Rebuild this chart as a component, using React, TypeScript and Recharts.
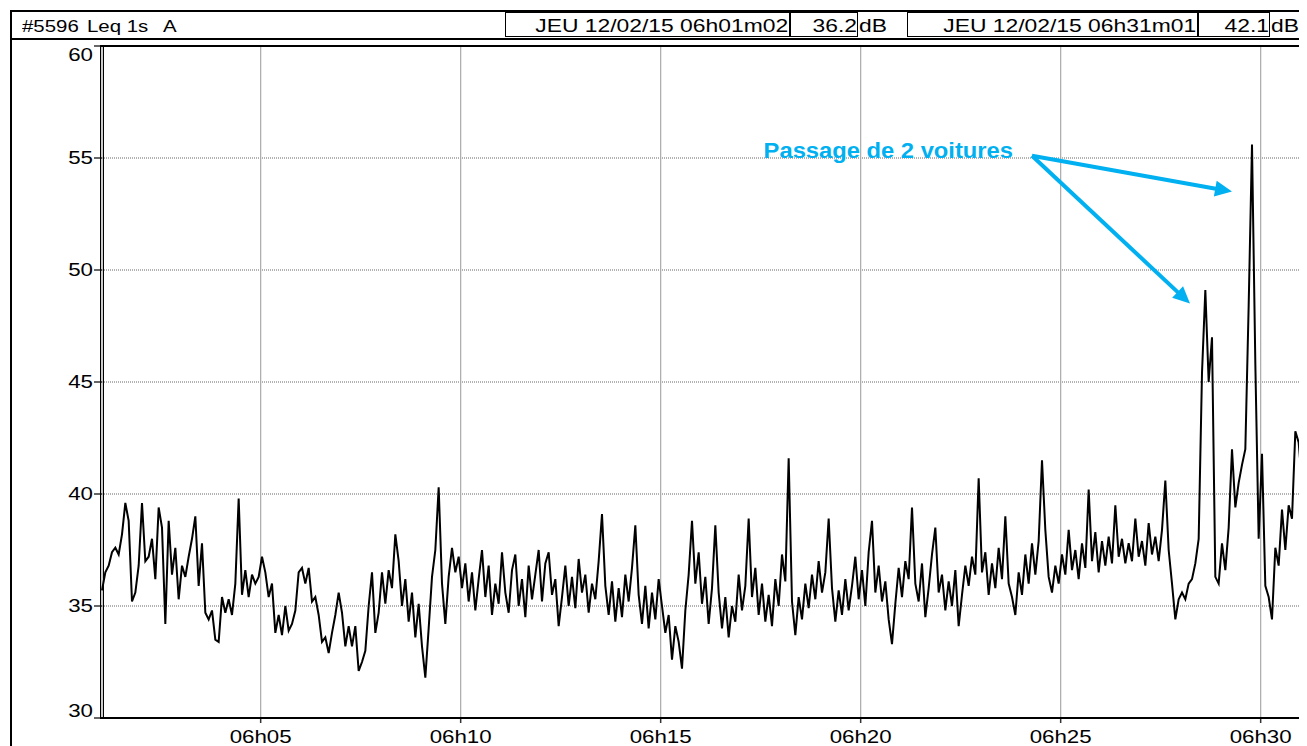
import React from 'react';
import { LineChart, Line, XAxis, YAxis, CartesianGrid, ReferenceLine, ReferenceDot } from 'recharts';

// Time axis: seconds since 06h00m00. First sample 06h01m02, one value every 5 s.
const START_SEC = 62;
const STEP_SEC = 5;
const END_SEC = 1862;

// Leq 1s (dB(A)), one reading per 5 s
const levels: number[] = [
  35.7, 36.5, 36.8, 37.4, 37.6, 37.3, 38.2, 39.6, 38.8, 35.2,
  35.6, 36.8, 39.6, 37.0, 37.2, 38.0, 36.2, 39.4, 38.5, 34.2,
  38.8, 36.4, 37.6, 35.3, 36.8, 36.3, 37.2, 38.0, 39.0, 35.9,
  37.8, 34.7, 34.4, 34.8, 33.5, 33.4, 35.4, 34.7, 35.3, 34.6,
  36.0, 39.8, 35.5, 36.6, 35.4, 36.4, 36.0, 36.3, 37.2, 36.5,
  35.4, 36.0, 33.8, 34.6, 33.7, 35.0, 33.9, 34.2, 34.8, 36.5,
  36.7, 36.0, 36.7, 35.2, 35.4, 34.6, 33.4, 33.6, 32.9, 33.8,
  34.6, 35.6, 34.7, 33.2, 34.1, 33.2, 34.1, 32.1, 32.5, 33.0,
  35.0, 36.5, 33.8, 34.7, 36.5, 35.1, 36.6, 35.8, 38.2, 37.0,
  35.0, 36.2, 34.3, 35.6, 33.6, 35.1, 33.2, 31.8, 34.0, 36.3,
  37.5, 40.3, 36.0, 34.2, 36.3, 37.6, 36.5, 37.2, 35.8, 36.9,
  35.2, 36.5, 34.8, 36.2, 37.5, 35.4, 36.8, 34.6, 36.0, 35.1,
  37.4, 35.6, 34.7, 36.6, 37.3, 35.0, 36.2, 34.5, 36.8, 35.3,
  36.4, 37.5, 35.2, 36.9, 37.4, 35.5, 36.2, 34.1, 35.4, 36.8,
  35.0, 36.3, 34.9, 37.1, 35.6, 36.4, 34.7, 36.0, 35.3, 37.0,
  39.1, 35.9, 34.6, 36.1, 34.3, 35.8, 34.5, 36.4, 35.2, 36.7,
  38.6, 35.5, 34.2, 35.9, 34.0, 35.6, 34.4, 36.2, 35.0, 33.8,
  34.6, 32.6, 34.1, 33.4, 32.2, 34.8, 36.4, 38.8, 36.0, 37.4,
  35.1, 36.3, 34.2, 35.8, 38.6, 35.6, 34.0, 35.4, 33.6, 35.0,
  34.3, 36.4, 34.8, 35.9, 38.9, 35.4, 36.7, 34.6, 36.0, 34.3,
  35.5, 34.1, 36.2, 35.0, 37.3, 36.1, 41.6, 35.2, 33.7, 35.4,
  34.4, 36.0, 34.9, 36.4, 35.3, 37.0, 35.6, 36.5, 38.9, 35.8,
  34.3, 35.7, 34.6, 36.2, 34.8, 35.9, 37.2, 35.3, 36.6, 35.0,
  37.4, 38.8, 35.6, 36.8, 35.2, 36.1, 34.4, 33.3, 35.1, 36.7,
  35.4, 37.0, 36.2, 39.4, 36.0, 35.2, 36.9, 34.5, 35.8, 37.3,
  38.5, 35.6, 36.4, 34.8, 36.1, 35.0, 36.6, 34.1, 35.5, 36.8,
  35.9, 37.2, 36.4, 40.7, 36.5, 37.4, 35.5, 36.9, 35.8, 37.6,
  36.2, 39.0, 36.0, 35.4, 34.6, 36.5, 35.5, 37.3, 36.0, 37.8,
  36.4, 37.9, 41.5, 38.4, 36.3, 35.6, 36.8, 36.0, 37.3, 36.4,
  38.4, 36.6, 37.5, 36.2, 37.8, 36.7, 40.2, 37.0, 38.3, 36.5,
  37.9, 36.8, 38.1, 36.9, 39.5, 37.2, 38.0, 36.9, 37.8, 37.0,
  38.9, 37.2, 37.9, 36.8, 38.7, 37.3, 38.1, 37.0, 38.4, 40.6,
  37.5, 36.0, 34.4, 35.3, 35.6, 35.3, 36.0, 36.2, 36.9, 38.0,
  45.4, 49.1, 45.0, 47.0, 36.3, 36.0, 37.8, 36.6, 38.5, 42.0,
  39.4, 40.5, 41.3, 42.0, 48.4, 55.6, 45.8, 38.0, 41.8, 35.9,
  35.4, 34.4, 37.6, 36.8, 39.3, 37.5, 39.5, 38.9, 42.8, 42.3,
  40.5,
];

const timeTicks = [300, 600, 900, 1200, 1500, 1800];
const timeTickLabels = ['06h05', '06h10', '06h15', '06h20', '06h25', '06h30'];
const levelTicks = [30, 35, 40, 45, 50, 55, 60];
const levelDomain = [30, 60];

const headerParts = ['#5596', 'Leq 1s', 'A'];
const startStamp = 'JEU 12/02/15 06h01m02';
const startLevel = '36.2';
const endStamp = 'JEU 12/02/15 06h31m01';
const endLevel = '42.1';
const unit = 'dB';

const annotationText = 'Passage de 2 voitures';
const annotationFrom = { x: 1457, y: 55.1 };
const annotationTargets = [
  { x: 1757, y: 53.5 },
  { x: 1694, y: 48.5 },
];

const data = levels.map((v, i) => ({ t: START_SEC + i * STEP_SEC, v }));

const FONT = '"Liberation Sans", Arial, Helvetica, sans-serif';
const STRETCH = 1.24;
const HSTRETCH = 1.27;
const BLUE = '#00B0F0';

const YTick = (props: any) => {
  const { x, y, payload } = props;
  const v = payload.value;
  const dy = v === 60 ? 15 : v === 30 ? -1 : 6.5;
  return (
    <text
      x={x}
      y={y + dy}
      textAnchor="end"
      fontSize={18}
      fontFamily={FONT}
      fill="#000"
      transform={`translate(${x} 0) scale(${STRETCH} 1) translate(${-x} 0)`}
    >
      {v}
    </text>
  );
};

const XTick = (props: any) => {
  const { x, y, payload } = props;
  const idx = timeTicks.indexOf(payload.value);
  return (
    <text
      x={x}
      y={y + 18}
      textAnchor="middle"
      fontSize={18}
      fontFamily={FONT}
      fill="#000"
      transform={`translate(${x} 0) scale(${STRETCH} 1) translate(${-x} 0)`}
    >
      {idx >= 0 ? timeTickLabels[idx] : ''}
    </text>
  );
};

const Arrow = (p: any) => {
  const { x1, y1, x2, y2 } = p;
  if ([x1, y1, x2, y2].some((n) => typeof n !== 'number' || isNaN(n))) return <g />;
  const dx = x2 - x1;
  const dy = y2 - y1;
  const len = Math.hypot(dx, dy) || 1;
  const ux = dx / len;
  const uy = dy / len;
  const head = 17;
  const half = 8;
  const bx = x2 - ux * head;
  const by = y2 - uy * head;
  const px = -uy;
  const py = ux;
  return (
    <g>
      <line x1={x1} y1={y1} x2={bx + ux * 2} y2={by + uy * 2} stroke={BLUE} strokeWidth={4} />
      <polygon
        points={`${x2},${y2} ${bx + px * half},${by + py * half} ${bx - px * half},${by - py * half}`}
        fill={BLUE}
      />
    </g>
  );
};

const AnnotationLabel = (p: any) => {
  const { cx, cy } = p;
  if (typeof cx !== 'number' || typeof cy !== 'number') return <g />;
  const x = cx - 19;
  return (
    <text
      x={x}
      y={cy + 2}
      textAnchor="end"
      fontSize={22}
      fontWeight="bold"
      fontFamily={FONT}
      fill={BLUE}
      transform={`translate(${x} 0) scale(1.08 1) translate(${-x} 0)`}
    >
      {annotationText}
    </text>
  );
};

const Rule = ({ l, t, w, h }: { l: number; t: number; w: number; h: number }) => (
  <div style={{ position: 'absolute', left: l, top: t, width: w, height: h, background: '#000' }} />
);

const Box = ({ l, w }: { l: number; w: number }) => (
  <div
    style={{
      position: 'absolute',
      left: l,
      top: 4,
      width: w,
      height: 25,
      boxSizing: 'border-box',
      border: '1.5px solid #000',
    }}
  />
);

const HText = ({
  text,
  left,
  right,
  size = 18,
  stretch = HSTRETCH,
}: {
  text: string;
  left?: number;
  right?: number;
  size?: number;
  stretch?: number;
}) => (
  <div
    style={{
      position: 'absolute',
      top: 9 + (18 - size) * 0.8,
      left,
      right,
      fontSize: size,
      lineHeight: `${size}px`,
      whiteSpace: 'nowrap',
      fontFamily: FONT,
      color: '#000',
      transform: `scaleX(${stretch})`,
      transformOrigin: right !== undefined ? 'right center' : 'left center',
    }}
  >
    {text}
  </div>
);

const W = 1299;

export default function App() {
  return (
    <div style={{ position: 'relative', width: W, height: 738, fontFamily: FONT, background: '#fff' }}>
      <LineChart width={W} height={738} data={data} margin={{ top: 38, right: 5, bottom: 0, left: 0 }}>
        <CartesianGrid vertical={false} stroke="#666" strokeDasharray="1 1" />
        <CartesianGrid horizontal={false} stroke="#aaa" strokeWidth={1.2} />
        <XAxis
          type="number"
          dataKey="t"
          domain={[START_SEC, END_SEC]}
          ticks={timeTicks}
          height={28}
          axisLine={false}
          tickLine={{ stroke: '#333', strokeWidth: 1.5 }}
          tickSize={5}
          tickMargin={2}
          tick={<XTick />}
          interval={0}
        />
        <YAxis
          type="number"
          domain={levelDomain}
          ticks={levelTicks}
          width={94}
          axisLine={false}
          tickLine={{ stroke: '#000', strokeWidth: 1.2 }}
          tickSize={8}
          tickMargin={1}
          tick={<YTick />}
          interval={0}
        />
        <Line
          type="linear"
          dataKey="v"
          stroke="#000"
          strokeWidth={2}
          dot={false}
          isAnimationActive={false}
        />
        {annotationTargets.map((tg, i) => (
          <ReferenceLine key={i} segment={[annotationFrom, tg]} shape={Arrow} ifOverflow="visible" />
        ))}
        <ReferenceDot x={annotationFrom.x} y={annotationFrom.y} r={0} shape={AnnotationLabel} ifOverflow="visible" />
      </LineChart>

      <div style={{ position: 'absolute', left: 0, top: 0, width: W, height: 738, pointerEvents: 'none' }}>
        {/* outer frame */}
        <Rule l={2} t={2} w={2} h={736} />
        <Rule l={2} t={2} w={1295} h={2} />
        <Rule l={2} t={30} w={1295} h={2} />
        <Rule l={1295} t={2} w={2} h={30} />
        {/* header boxes */}
        <Box l={497} w={286} />
        <Box l={781} w={69} />
        <Box l={899} w={292} />
        <Box l={1189} w={73} />
        <HText text={headerParts[0]} left={14} size={17} stretch={1.2} />
        <HText text={headerParts[1]} left={79} size={17} stretch={1.2} />
        <HText text={headerParts[2]} left={155} size={17} stretch={1.2} />
        <HText text={startStamp} right={W - 780} />
        <HText text={startLevel} right={W - 849} />
        <HText text={unit} left={851} />
        <HText text={endStamp} right={W - 1188} />
        <HText text={endLevel} right={W - 1261} />
        <HText text={unit} left={1263} />
        {/* plot frame */}
        <Rule l={92} t={37} w={1205} h={1.5} />
        <Rule l={92} t={709} w={1205} h={2} />
        <Rule l={91.5} t={37} w={1.5} h={674} />
        <Rule l={94.5} t={37} w={1.5} h={674} />
        <Rule l={1293.5} t={37} w={1.5} h={674} />
        <Rule l={1296} t={37} w={1.5} h={674} />
      </div>
    </div>
  );
}
